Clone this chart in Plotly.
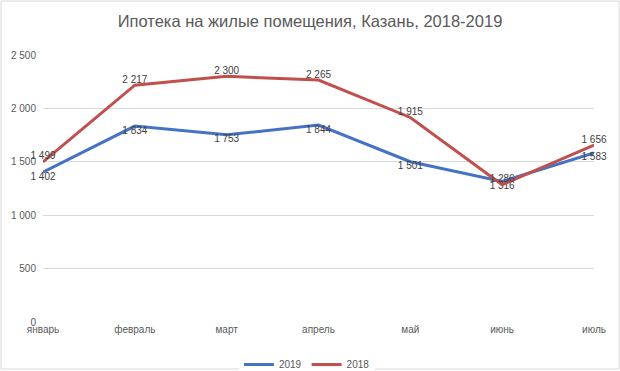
import plotly.graph_objects as go

months = ["январь", "февраль", "март", "апрель", "май", "июнь", "июль"]
y2019 = [1402, 1834, 1753, 1844, 1501, 1316, 1583]
y2018 = [1499, 2217, 2300, 2265, 1915, 1286, 1656]
ytick_vals = [0, 500, 1000, 1500, 2000, 2500]

fig = go.Figure()
fig.add_trace(go.Scatter(
    x=months, y=y2019, name="2019", mode="lines+text",
    line=dict(color="#4472C4", width=3),
    text=y2019, texttemplate="%{y:,}", textposition="bottom center",
    textfont=dict(size=10, color="#404040"),
    cliponaxis=False,
))
fig.add_trace(go.Scatter(
    x=months, y=y2018, name="2018", mode="lines+text",
    line=dict(color="#C0504D", width=3),
    text=y2018, texttemplate="%{y:,}", textposition="top center",
    textfont=dict(size=10, color="#404040"),
    cliponaxis=False,
))

fig.update_layout(
    width=620, height=371,
    margin=dict(l=43, r=26, t=55, b=49, autoexpand=False),
    paper_bgcolor="white", plot_bgcolor="white",
    separators=", ",
    font=dict(family="Liberation Sans, Arial, sans-serif", color="#595959", size=10),
    title=dict(text="Ипотека на жилые помещения, Казань, 2018-2019",
               x=0.5, xanchor="center", y=0.943, yanchor="middle",
               font=dict(size=16.5, color="#595959")),
    xaxis=dict(type="category", range=[0, 6], showgrid=False, showline=False,
               zeroline=False, ticks="", automargin=False,
               tickfont=dict(size=10, color="#595959")),
    yaxis=dict(range=[0, 2500], tickvals=ytick_vals, tickformat=",d",
               showgrid=True, gridcolor="#D9D9D9", gridwidth=1, automargin=False,
               zeroline=False, showline=False, ticks="", ticklabelstandoff=6,
               tickfont=dict(size=10, color="#595959")),
    legend=dict(orientation="h", x=0.479, xanchor="center", y=-0.105, yanchor="top",
                itemwidth=30, font=dict(size=10, color="#595959")),
    showlegend=True,
)
fig.add_shape(type="rect", xref="paper", yref="paper",
              x0=-42/551, x1=1+25/551, y0=-47/267, y1=1+54/267,
              line=dict(color="#D9D9D9", width=1))

post = "document.body.style.margin='0';"
fig.write_html("out.html", config={"displayModeBar": False}, post_script=post)
